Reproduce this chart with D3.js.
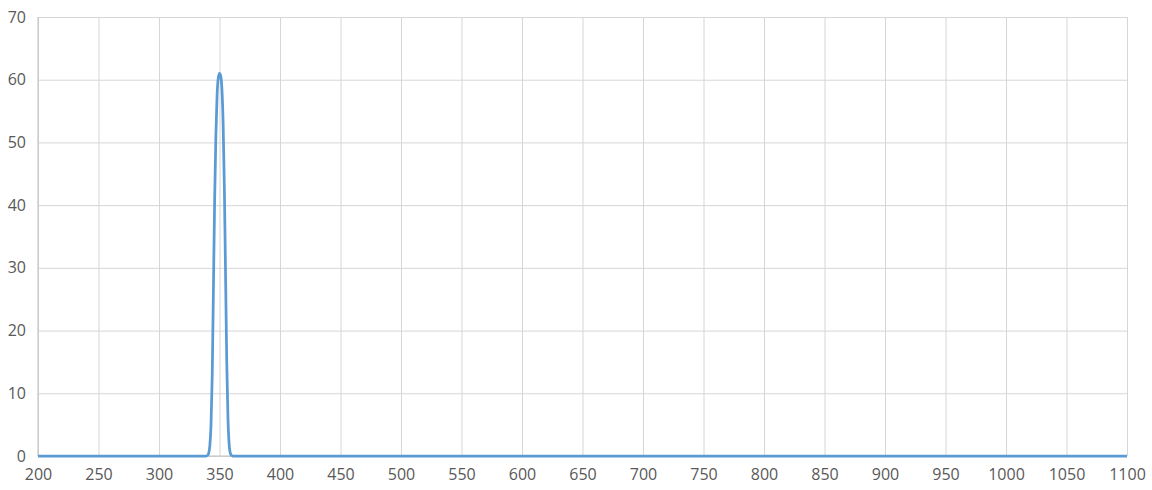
<!doctype html>
<html>
<head>
   <title>Spectrum</title>
   <style>
      body { margin: 0; background: #fff; }
      .tick text { font-family: "Open Sans", sans-serif; font-size: 16px; fill: #595959; }
   </style>
</head>
<script src="https://d3js.org/d3.v7.min.js"></script>
<body>
   <svg width="1152" height="490"></svg>
<script>
   // wavelength (nm) and transmission values
   var WAVELENGTHS = [200, 300, 338, 339, 340, 341, 342, 343, 344, 345, 346, 347, 348, 349, 350, 351, 352, 353, 354, 355, 356, 357, 358, 359, 360, 361, 362, 400, 600, 800, 1000, 1100];
   var VALUES      = [0,   0,   0,   0,   0.1, 0.4, 1.6, 5,   13,  27,  41,  51,  57.5, 60.3, 61, 60.6, 58.5, 53, 43, 29, 15, 6, 1.8, 0.4, 0.1, 0,  0,   0,   0,   0,   0,    0];
   var X_TICKS = [200, 250, 300, 350, 400, 450, 500, 550, 600, 650, 700, 750, 800, 850, 900, 950, 1000, 1050, 1100];
   var Y_TICKS = [0, 10, 20, 30, 40, 50, 60, 70];

   const svg = d3.select("svg");
   const plotLeft = 38, plotRight = 1127, plotTop = 17, plotBottom = 456;

   const xs = d3.scaleLinear().domain([200, 1100]).range([plotLeft, plotRight]);
   const ys = d3.scaleLinear().domain([0, 70]).range([plotBottom, plotTop]);

   // horizontal gridlines + y labels
   const gy = svg.append("g")
      .attr("transform", "translate(" + plotLeft + ",0)")
      .call(d3.axisLeft(ys).tickValues(Y_TICKS).tickFormat(d3.format("d")).tickSize(-(plotRight - plotLeft)).tickPadding(12));
   gy.select(".domain").remove();
   gy.selectAll(".tick line").attr("stroke", "#d6d6d6");

   // vertical gridlines + x labels
   const gx = svg.append("g")
      .attr("transform", "translate(0," + plotBottom + ")")
      .call(d3.axisBottom(xs).tickValues(X_TICKS).tickFormat(d3.format("d")).tickSize(-(plotBottom - plotTop)).tickPadding(13));
   gx.select(".domain").remove();
   gx.selectAll(".tick line").attr("stroke", "#d6d6d6");

   // axis lines
   svg.append("line")
      .attr("x1", xs(200)).attr("x2", xs(200))
      .attr("y1", ys(70)).attr("y2", ys(0))
      .attr("stroke", "#bfbfbf");
   svg.append("line")
      .attr("x1", xs(200)).attr("x2", xs(1100))
      .attr("y1", ys(0)).attr("y2", ys(0))
      .attr("stroke", "#bfbfbf");

   const data = WAVELENGTHS.map(function(w, i) { return { x: w, y: VALUES[i] }; });

   svg.append("path")
      .datum(data)
      .attr("fill", "none")
      .attr("stroke", "#5b9bd5")
      .attr("stroke-width", 2.75)
      .attr("stroke-linejoin", "round")
      .attr("d", d3.line()
         .x(function(d) { return xs(d.x); })
         .y(function(d) { return ys(d.y); })
         .curve(d3.curveMonotoneX));
</script>
</body>
</html>
